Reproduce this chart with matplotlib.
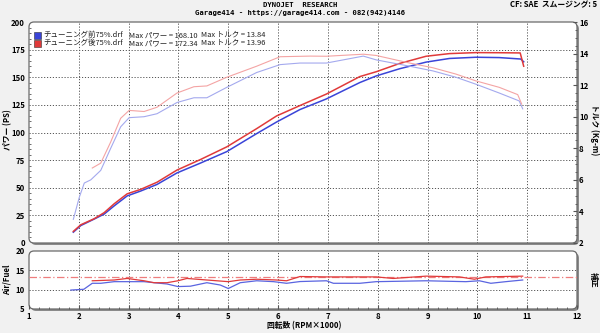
import numpy as np
import matplotlib
matplotlib.use('Agg')
import matplotlib.pyplot as plt
from matplotlib.patches import FancyBboxPatch, Rectangle
from matplotlib.transforms import IdentityTransform
from matplotlib.ticker import MultipleLocator

plt.rcParams['font.family'] = ['Noto Sans CJK JP', 'DejaVu Sans']

# --- data ---
rpm_pw_b = [1.89, 2.04, 2.31, 2.51, 2.71, 2.97, 3.24, 3.57, 3.97, 4.44, 4.97, 5.57, 5.97,
            6.44, 6.97, 7.64, 7.97, 8.44, 8.97, 9.44, 9.97, 10.44, 10.87, 10.93]
pw_b = [9.8, 15.8, 21.7, 26.2, 33.6, 42.6, 47.0, 53.0, 63.4, 72.3, 82.7, 99.0, 109.5,
        120.8, 130.4, 145.2, 151.2, 157.7, 163.7, 167.0, 168.1, 167.8, 166.5, 164.0]
rpm_pw_r = [1.89, 2.04, 2.31, 2.51, 2.71, 2.97, 3.24, 3.57, 3.97, 4.44, 4.97, 5.57, 5.97,
            6.44, 6.97, 7.64, 7.97, 8.44, 8.97, 9.44, 9.97, 10.44, 10.86, 10.93]
pw_r = [10.5, 16.5, 22.0, 27.5, 35.5, 44.5, 48.5, 55.0, 66.0, 75.5, 87.0, 103.5, 115.0,
        124.4, 134.8, 150.6, 155.0, 162.5, 169.0, 171.4, 172.3, 172.2, 172.0, 160.0]

rpm_tq_b = [1.89, 2.01, 2.11, 2.24, 2.44, 2.64, 2.84, 3.01, 3.31, 3.57, 3.97, 4.31, 4.57,
            4.97, 5.57, 6.04, 6.44, 6.97, 7.71, 7.97, 8.64, 9.11, 9.57, 9.97, 10.44, 10.84, 10.91]
tq_b = [3.5, 4.9, 5.8, 6.0, 6.6, 8.0, 9.36, 9.94, 10.0, 10.19, 10.9, 11.2, 11.2,
        11.86, 12.8, 13.3, 13.4, 13.4, 13.84, 13.6, 13.2, 12.9, 12.5, 12.06, 11.5, 11.0, 10.5]
rpm_tq_r = [2.27, 2.44, 2.64, 2.84, 3.01, 3.31, 3.57, 3.97, 4.31, 4.57, 4.97, 5.57, 6.04,
            6.64, 6.97, 7.71, 7.97, 8.64, 9.11, 9.57, 9.97, 10.44, 10.81, 10.89]
tq_r = [6.75, 7.06, 8.4, 9.9, 10.4, 10.33, 10.6, 11.5, 11.9, 11.95, 12.5, 13.2, 13.8,
        13.84, 13.83, 13.96, 13.88, 13.4, 13.1, 12.7, 12.27, 11.86, 11.4, 10.8]

rpm_af_b = [1.84, 2.1, 2.27, 2.44, 2.71, 2.97, 3.31, 3.51, 3.77, 3.99, 4.24, 4.57, 4.84, 5.0,
            5.24, 5.57, 5.91, 6.17, 6.44, 6.97, 7.11, 7.64, 7.97, 8.97, 9.77, 10.04, 10.27,
            10.57, 10.91]
af_b = [9.9, 10.1, 11.65, 11.65, 12.07, 12.07, 12.07, 11.8, 11.47, 10.8, 10.9, 11.8, 11.2, 10.3,
        11.8, 12.3, 12.07, 11.65, 12.1, 12.3, 11.65, 11.65, 12.07, 12.3, 12.07, 12.3, 11.65,
        12.07, 12.5]
rpm_af_r = [2.27, 2.71, 2.97, 3.31, 3.51, 3.77, 3.99, 4.17, 4.57, 5.0, 5.24, 5.57, 5.97, 6.17,
            6.44, 6.97, 7.97, 8.31, 8.97, 9.64, 9.94, 10.17, 10.91]
af_r = [12.3, 12.5, 12.9, 12.3, 11.8, 11.8, 12.3, 12.9, 12.5, 12.07, 12.5, 12.7, 12.5, 12.3,
        13.4, 13.3, 13.3, 12.9, 13.5, 13.3, 12.7, 13.3, 13.5]
af_target = 13.2

runs = ['チューニング前75%.drf', 'チューニング後75%.drf']
max_pw = [168.10, 172.34]
max_tq = [13.84, 13.96]

blue = '#3a44d8'
red = '#e03a3a'
lblue = '#a4a9ee'
lred = '#f4a4a4'
fs = 5.6
W, H = 600, 333

fig = plt.figure(figsize=(6, 3.33), dpi=100)
fig.patch.set_facecolor('#f1f1f1')

def px(x0, y0, x1, y1):
    # image pixel box (top-down y) -> figure fraction rect
    return [x0 / W, 1 - y1 / H, (x1 - x0) / W, (y1 - y0) / H]

def frame(x0, y0, x1, y1):
    # rounded box with grey drop shadow, drawn in pixels
    b = H - y1
    sh = FancyBboxPatch((x0 + 2, b - 2), x1 - x0, y1 - y0, boxstyle='round,pad=0,rounding_size=5',
                        transform=IdentityTransform(), fc='#8a8a8a', ec='none', zorder=-3)
    bx = FancyBboxPatch((x0, b), x1 - x0, y1 - y0, boxstyle='round,pad=0,rounding_size=5',
                        transform=IdentityTransform(), fc='white', ec='#6a6a6a', lw=0.9, zorder=-2)
    fig.add_artist(sh)
    fig.add_artist(bx)

L, R = 29, 577
frame(L, 22, R, 243)
frame(L, 251, R, 309)

grid_kw = dict(color='#555555', lw=0.7, ls=(0, (1.2, 1.8)))

# top: power + torque
ax = fig.add_axes(px(L, 22, R, 243))
ax.patch.set_visible(False)
for s in ax.spines.values():
    s.set_visible(False)
ax.set_xlim(1, 12)
ax.set_ylim(0, 200)
for v in range(2, 12):
    ax.axvline(v, **grid_kw)
for v in range(25, 200, 25):
    ax.axhline(v, **grid_kw)
ax.plot(rpm_pw_b, pw_b, color=blue, lw=1.1)
ax.plot(rpm_pw_r, pw_r, color=red, lw=1.1)
ax.set_xticks([])
ax.set_yticks(range(0, 201, 25))
ax.set_yticklabels([str(v) for v in range(0, 201, 25)], fontsize=fs, fontweight='bold')
ax.yaxis.set_minor_locator(MultipleLocator(5))
ax.tick_params(axis='y', which='major', length=0, pad=3)
ax.tick_params(axis='y', which='minor', length=1.5, direction='in', color='#555555')

ax2 = ax.twinx()
for s in ax2.spines.values():
    s.set_visible(False)
ax2.set_ylim(2, 16)
ax2.plot(rpm_tq_b, tq_b, color=lblue, lw=0.8)
ax2.plot(rpm_tq_r, tq_r, color=lred, lw=0.8)
ax2.set_yticks(range(2, 17, 2))
ax2.set_yticklabels([str(v) for v in range(2, 17, 2)], fontsize=fs, fontweight='bold')
ax2.yaxis.set_minor_locator(MultipleLocator(0.5))
ax2.tick_params(axis='y', which='major', length=3, direction='in', pad=1.5, color='#555555')
ax2.tick_params(axis='y', which='minor', length=1.5, direction='in', color='#555555')

# legend block
lfs = 5.4
for i, c in enumerate([blue, red]):
    y = 35 + i * 8
    fig.add_artist(Rectangle((34, H - y - 3.5), 7, 7, transform=IdentityTransform(),
                             fc=c, ec='#333333', lw=0.4))
    fig.text(43 / W, 1 - y / H, runs[i], fontsize=lfs, va='center', color='#222222')
    fig.text(129 / W, 1 - y / H, 'Max パワー = %.2f' % max_pw[i], fontsize=lfs, va='center',
             color='#222222')
    fig.text(201 / W, 1 - y / H, 'Max トルク = %.2f' % max_tq[i], fontsize=lfs, va='center',
             color='#222222')

# bottom: air/fuel
ab = fig.add_axes(px(L, 251, R, 309))
ab.patch.set_visible(False)
for s in ab.spines.values():
    s.set_visible(False)
ab.set_xlim(1, 12)
ab.set_ylim(5, 20)
for v in range(2, 12):
    ab.axvline(v, **grid_kw)
for v in (10, 15):
    ab.axhline(v, **grid_kw)
ab.axhline(af_target, color='#ee7d7d', lw=0.9, ls=(0, (6, 2, 1, 2)))
ab.plot(rpm_af_b, af_b, color='#5a64e0', lw=0.9)
ab.plot(rpm_af_r, af_r, color=red, lw=0.9)
ab.set_xticks(range(1, 13))
ab.set_xticklabels([str(v) for v in range(1, 13)], fontsize=fs, fontweight='bold')
ab.xaxis.set_minor_locator(MultipleLocator(0.2))
ab.tick_params(axis='x', which='major', length=3, direction='in', pad=2, color='#555555')
ab.tick_params(axis='x', which='minor', length=1.5, direction='in', color='#555555')
ab.set_yticks([5, 10, 15, 20])
ab.set_yticklabels(['5', '10', '15', '20'], fontsize=fs, fontweight='bold')
ab.tick_params(axis='y', length=0, pad=3)

# header and axis titles
fig.text(0.5, 1 - 5 / H, 'DYNOJET  RESEARCH', ha='center', va='center', fontsize=5.2,
         fontweight='bold', family='DejaVu Sans Mono')
fig.text(0.5, 1 - 13 / H, 'Garage414 - https://garage414.com - 082(942)4146', ha='center',
         va='center', fontsize=5.2, fontweight='bold', family='DejaVu Sans Mono')
fig.text(597 / W, 1 - 5 / H, 'CF: SAE  スムージング: 5', ha='right', va='center', fontsize=fs,
         fontweight='bold')
fig.text(8 / W, 1 - 130 / H, 'パワー (PS)', rotation=90, ha='center', va='center', fontsize=fs,
         fontweight='bold')
fig.text(595 / W, 1 - 130 / H, 'トルク (Kg-m)', rotation=270, ha='center', va='center',
         fontsize=fs, fontweight='bold')
fig.text(7 / W, 1 - 280 / H, 'Air/Fuel', rotation=90, ha='center', va='center', fontsize=fs,
         fontweight='bold')
fig.text(593 / W, 1 - 280 / H, '補正', rotation=270, ha='center', va='center', fontsize=fs,
         fontweight='bold')
fig.text(304 / W, 1 - 326 / H, '回転数 (RPM×1000)', ha='center', va='center', fontsize=fs,
         fontweight='bold')

fig.savefig('out.png', dpi=100, facecolor=fig.get_facecolor())
